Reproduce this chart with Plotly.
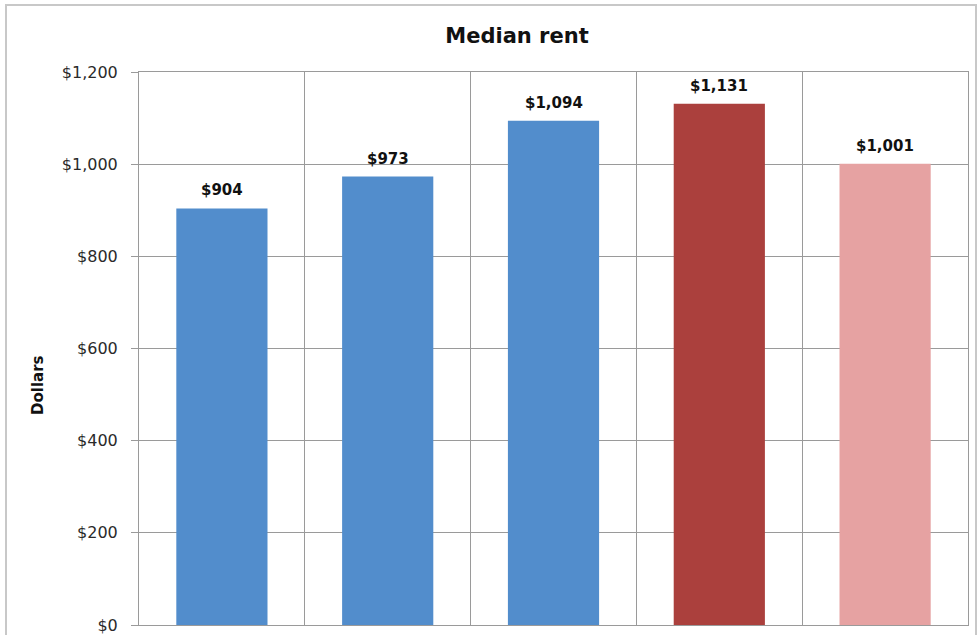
import plotly.graph_objects as go

categories = ["Cat 1", "Cat 2", "Cat 3", "Cat 4", "Cat 5"]
values = [904, 973, 1094, 1131, 1001]
bar_colors = ["#528dcc", "#528dcc", "#528dcc", "#ab403d", "#e6a2a2"]
tick_vals = [0, 200, 400, 600, 800, 1000, 1200]
tick_text = ["$0", "$200", "$400", "$600", "$800", "$1,000", "$1,200"]
labels = ["${:,}".format(v) for v in values]

W, H = 978, 635
L, R, T, B = 139, 10, 72, 10
pw, ph = W - L - R, H - T - B
FONT = "DejaVu Sans, Verdana, sans-serif"

fig = go.Figure(go.Bar(
    x=categories, y=values, marker=dict(color=bar_colors, line=dict(width=0)),
    width=0.55, hoverinfo="skip",
))
for c, v, t in zip(categories, values, labels):
    fig.add_annotation(x=c, y=v, text="<b>%s</b>" % t, showarrow=False, yanchor="bottom",
                       yshift=7, font=dict(family=FONT, size=15, color="#111111"))

fig.update_layout(
    width=W, height=H, margin=dict(l=L, r=R, t=T, b=B, autoexpand=False),
    paper_bgcolor="white", plot_bgcolor="white", showlegend=False,
    title=dict(text="<b>Median rent</b>", x=517 / W, xanchor="center", y=1 - 36 / H, yanchor="middle",
               font=dict(family=FONT, size=21, color="#111111")),
    font=dict(family=FONT, size=16, color="#222222"),
)
fig.update_xaxes(
    type="category", tickson="boundaries", showgrid=True, gridcolor="#9a9a9a", gridwidth=1,
    showticklabels=False, ticks="", showline=True, linecolor="#9a9a9a", mirror=True,
    automargin=False,
)
fig.update_yaxes(
    range=[0, 1200], tickvals=tick_vals, ticktext=tick_text, showgrid=True, gridcolor="#9a9a9a",
    ticks="outside", ticklen=7, tickcolor="#9a9a9a", showline=True, linecolor="#9a9a9a", mirror=True,
    zeroline=False, ticklabelstandoff=10, automargin=False,
    tickfont=dict(family=FONT, size=16, color="#2a2a2a"),
)
fig.add_annotation(text="<b>Dollars</b>", xref="paper", yref="paper", x=(38 - L) / pw, y=(625 - 385) / ph,
                   textangle=-90, showarrow=False, xanchor="center", yanchor="middle",
                   font=dict(family=FONT, size=15, color="#111111"))
fig.add_shape(type="rect", xref="paper", yref="paper",
              x0=(6 - L) / pw, x1=(976 - L) / pw, y0=-0.1, y1=1 + (T - 5) / ph,
              line=dict(color="#c8c8c8", width=2), fillcolor="rgba(0,0,0,0)", layer="below")
fig.write_html("out.html", config={"displayModeBar": False},
               post_script="document.body.style.margin='0';document.body.style.overflow='hidden';")
